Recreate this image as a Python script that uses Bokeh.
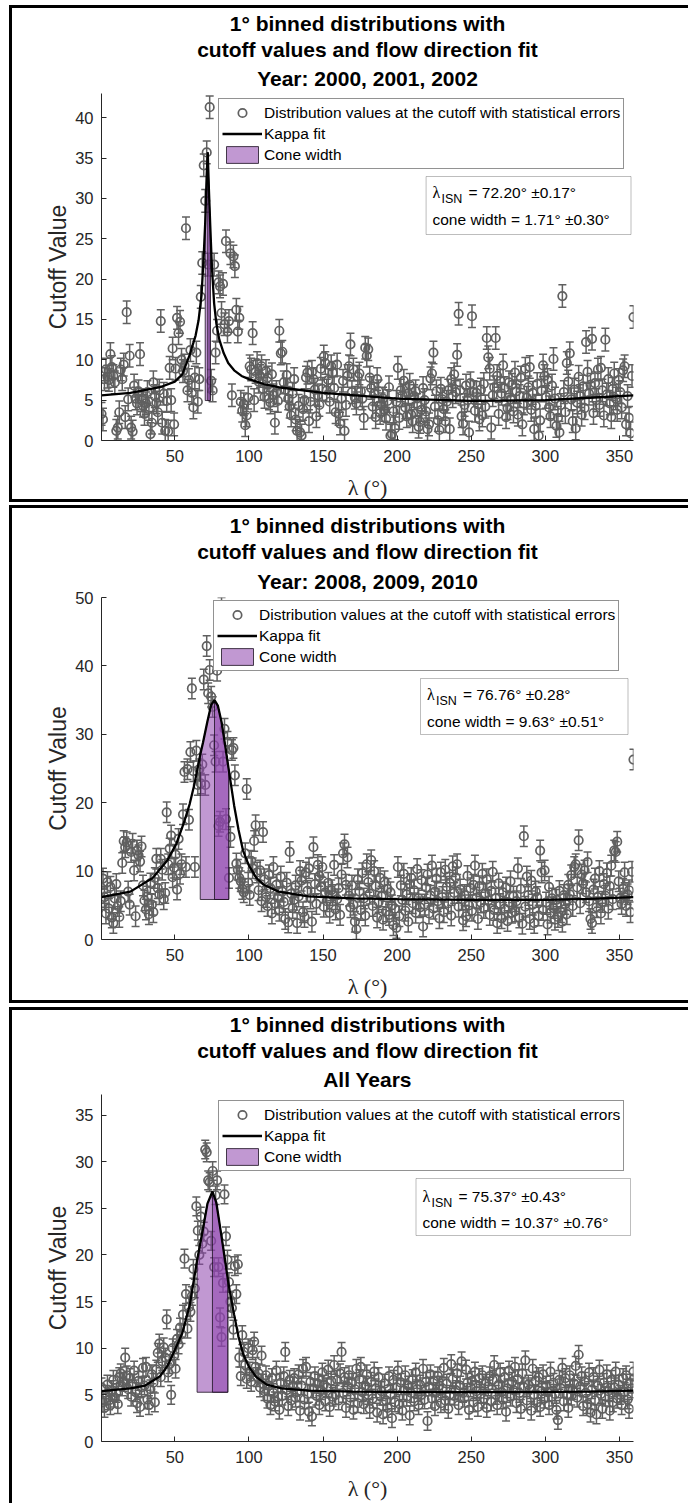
from bokeh.plotting import figure
from bokeh.models import Range1d, FixedTicker, Legend, LegendItem, Label, BoxAnnotation, Title
from bokeh.layouts import column
from bokeh.embed import file_html
from bokeh.resources import INLINE

# ---------------- data ----------------
lam = [i + 0.5 for i in range(360)]  # 1-degree bin centres

vals1 = [3.3, 2.6, 7.6, 8.8, 7.9, 7.5, 10.7, 9.1, 8.0, 7.2,
         1.2, 1.6, 3.5, 8.8, 7.6, 9.4, 2.9, 15.9, 5.1, 10.5,
         1.6, 1.1, 6.8, 5.2, 4.6, 6.1, 10.7, 5.0, 4.3, 3.3,
         4.6, 6.0, 3.9, 0.8, 2.2, 7.2, 5.5, 4.7, 3.5, 6.2,
         14.8, 2.2, 5.8, 1.2, 4.9, 1.1, 9.0, 5.0, 11.4, 2.0,
         8.9, 15.2, 13.3, 14.7, 10.0, 8.6, 9.3, 26.3, 6.2, 7.5,
         11.2, 5.9, 4.1, 7.8, 10.9, 4.8, 7.6, 17.8, 22.0, 34.1,
         29.7, 35.7, 21.8, 41.3, 7.4, 6.2, 21.8, 10.9, 13.6, 19.6,
         19.1, 15.8, 19.4, 14.4, 24.7, 13.5, 14.8, 23.2, 5.6, 22.8,
         21.6, 16.2, 13.5, 15.2, 4.8, 3.7, 4.5, 1.9, 3.1, 5.3,
         9.2, 8.8, 13.3, 5.0, 8.5, 9.6, 7.3, 8.0, 9.2, 6.4,
         5.4, 8.6, 7.8, 5.2, 4.7, 8.2, 5.6, 2.2, 6.0, 4.9,
         13.6, 10.8, 11.0, 7.2, 6.3, 8.1, 5.2, 4.2, 3.1, 5.8,
         7.6, 2.6, 1.2, 4.3, 1.0, 0.6, 3.9, 5.0, 7.8, 8.4,
         2.4, 4.8, 8.5, 7.6, 6.3, 3.0, 5.6, 4.4, 8.9, 6.4,
         10.4, 9.6, 6.2, 7.5, 4.8, 9.2, 8.4, 6.5, 3.5, 9.4,
         3.3, 2.1, 5.2, 7.4, 1.2, 4.4, 8.0, 9.2, 11.9, 6.0,
         8.8, 5.3, 4.6, 7.9, 8.3, 6.1, 5.2, 2.8, 11.5, 10.5,
         11.3, 7.8, 6.5, 4.2, 5.8, 2.9, 7.6, 6.1, 3.4, 4.5,
         5.2, 3.8, 2.7, 4.9, 6.6, 0.6, 0.8, 3.6, 1.5, 4.8,
         9.0, 2.8, 6.2, 5.6, 7.4, 4.1, 3.0, 5.8, 6.9, 3.2,
         2.4, 5.5, 6.1, 4.4, 1.7, 2.3, 3.8, 6.5, 5.0, 3.6,
         1.4, 2.0, 7.7, 8.3, 10.9, 4.2, 6.1, 2.5, 1.3, 6.4,
         5.1, 3.9, 2.4, 4.8, 6.2, 1.4, 7.6, 5.5, 8.2, 6.0,
         10.6, 15.7, 6.2, 3.0, 2.1, 4.4, 6.8, 5.0, 1.0, 7.1,
         15.4, 6.0, 3.7, 5.9, 4.5, 2.6, 6.3, 3.1, 7.0, 4.2,
         12.7, 10.3, 8.9, 1.6, 5.6, 6.6, 12.7, 8.0, 3.3, 7.4,
         5.8, 9.3, 6.5, 2.9, 4.0, 7.2, 5.1, 6.9, 3.6, 8.4,
         6.1, 3.2, 5.5, 7.8, 2.0, 4.6, 8.9, 5.3, 6.6, 9.1,
         3.8, 5.9, 1.4, 4.3, 7.0, 0.6, 2.5, 6.2, 9.3, 8.0,
         5.4, 7.5, 4.1, 3.0, 6.8, 10.1, 5.2, 1.8, 2.8, 1.0,
         4.4, 17.9, 6.0, 3.5, 9.6, 7.3, 10.8, 5.1, 2.4, 6.3,
         1.5, 4.7, 7.9, 5.5, 3.2, 6.7, 4.0, 12.2, 8.5, 5.8,
         6.9, 12.6, 3.4, 7.1, 5.0, 8.8, 4.4, 9.0, 6.2, 3.1,
         12.5, 5.7, 7.6, 4.6, 2.9, 6.4, 8.3, 5.2, 3.8, 7.5,
         6.0, 4.1, 8.7, 9.2, 2.0, 5.5, 2.8, 0.9, 8.0, 15.3]

vals2 = [5.9, 8.9, 6.2, 3.8, 8.4, 4.5, 7.7, 3.2, 2.4, 6.0,
         8.1, 4.9, 3.3, 5.6, 11.2, 14.4, 13.5, 14.2, 7.0, 5.1,
         12.8, 14.0, 10.1, 3.4, 13.0, 12.3, 11.4, 13.6, 7.9, 5.7,
         4.4, 6.3, 3.7, 8.2, 5.1, 4.0, 9.0, 11.8, 7.5, 6.6,
         11.8, 10.2, 5.9, 6.8, 18.6, 11.0, 13.3, 15.2, 9.1, 10.5,
         12.4, 7.3, 14.7, 9.6, 11.0, 18.3, 24.5, 10.6, 24.9, 17.5,
         27.4, 36.7, 24.6, 10.6, 27.6, 22.6, 24.9, 22.8, 25.6, 38.0,
         22.6, 42.9, 36.0, 39.4, 35.5, 34.0, 28.4, 26.0, 39.3, 16.6,
         17.2, 48.5, 26.0, 30.8, 17.6, 28.9, 9.0, 15.0, 27.7, 28.0,
         24.0, 11.1, 10.2, 9.0, 8.5, 7.4, 6.9, 12.6, 22.0, 8.3,
         6.5, 11.5, 10.4, 14.4, 16.7, 9.8, 7.2, 10.1, 5.6, 15.7,
         8.8, 6.2, 4.9, 9.4, 7.5, 3.8, 10.6, 5.3, 8.0, 6.1,
         4.2, 9.2, 7.0, 5.5, 3.0, 8.3, 2.5, 12.8, 6.7, 4.6,
         5.8, 7.9, 2.4, 6.3, 10.0, 8.6, 4.0, 3.3, 9.8, 7.1,
         10.4, 6.0, 2.6, 13.5, 8.1, 5.2, 10.9, 9.3, 7.7, 10.6,
         4.8, 6.9, 5.6, 8.3, 3.9, 7.2, 6.5, 10.9, 4.4, 5.9,
         7.5, 3.6, 9.5, 12.6, 13.9, 8.0, 12.0, 6.4, 4.7, 7.9,
         5.1, 2.6, 1.5, 8.8, 7.0, 4.3, 9.7, 6.0, 3.5, 11.0,
         8.4, 6.7, 11.6, 4.9, 10.0, 7.8, 3.2, 5.5, 9.0, 6.3,
         2.9, 8.5, 4.1, 7.4, 3.6, 6.9, 5.0, 2.1, 4.5, 1.7,
         10.6, 3.4, 7.9, 5.8, 9.6, 4.2, 6.6, 2.6, 8.1, 9.0,
         5.3, 7.2, 3.9, 10.3, 6.0, 4.7, 8.7, 1.9, 5.1, 7.6,
         9.5, 3.8, 6.4, 10.8, 4.5, 7.0, 8.9, 5.6, 3.1, 9.8,
         6.2, 4.0, 10.2, 7.7, 5.3, 8.3, 3.5, 10.7, 6.8, 9.1,
         11.0, 4.8, 7.3, 5.9, 2.8, 6.5, 3.4, 9.3, 5.0, 7.5,
         4.2, 8.0, 10.8, 6.1, 3.0, 7.8, 5.4, 9.6, 4.6, 6.7,
         8.8, 5.7, 3.6, 7.1, 9.9, 4.3, 6.0, 2.4, 8.2, 5.2,
         3.1, 6.9, 4.5, 7.6, 2.7, 5.4, 8.5, 3.9, 6.3, 4.1,
         5.6, 10.4, 3.2, 7.4, 2.3, 15.1, 4.8, 9.2, 6.5, 3.0,
         8.6, 5.1, 2.4, 7.0, 6.2, 3.5, 13.0, 9.8, 4.3, 10.1,
         5.4, 2.2, 7.7, 3.9, 6.0, 4.6, 2.9, 5.8, 3.3, 7.1,
         4.0, 2.6, 6.5, 5.2, 3.7, 8.0, 6.6, 9.4, 4.9, 10.6,
         11.0, 7.6, 14.5, 5.3, 9.5, 8.2, 10.1, 6.9, 11.3, 5.6,
         3.0, 2.4, 7.3, 8.9, 4.7, 6.2, 10.0, 3.8, 5.5, 8.1,
         6.4, 9.7, 4.5, 7.8, 10.8, 5.9, 13.0, 12.8, 14.3, 8.5,
         6.0, 5.2, 7.4, 9.8, 4.9, 6.6, 7.2, 4.0, 9.9, 26.3]

vals3 = [5.8, 4.2, 3.6, 5.0, 6.1, 4.4, 3.9, 5.5, 6.6, 4.7,
         5.2, 4.0, 6.9, 7.3, 5.9, 6.4, 9.0, 7.1, 5.6, 6.8,
         4.8, 6.2, 7.6, 5.3, 4.1, 6.5, 3.7, 5.8, 7.9, 6.0,
         8.0, 4.5, 3.9, 5.6, 7.2, 6.3, 4.2, 7.7, 9.5, 10.5,
         6.9, 8.6, 10.1, 9.0, 13.1, 7.4, 8.3, 5.0, 10.0, 9.2,
         7.8, 11.0, 10.4, 12.2, 11.5, 13.6, 19.6, 15.8, 12.1, 14.4,
         13.9, 15.6, 18.5, 16.4, 25.2, 22.6, 20.0, 24.1, 21.2, 22.5,
         31.3, 31.0, 28.0, 27.8, 21.5, 29.0, 18.7, 26.4, 28.0, 18.7,
         13.3, 11.2, 17.0, 26.5, 22.0, 19.5, 17.1, 15.0, 14.3, 12.0,
         18.8, 15.8, 19.0, 9.0, 7.0, 11.4, 9.6, 8.2, 6.7, 10.0,
         7.5, 6.4, 9.8, 10.7, 8.0, 6.9, 7.3, 5.8, 9.2, 6.2,
         5.4, 7.1, 4.6, 6.0, 3.9, 6.8, 5.2, 4.3, 7.6, 4.8,
         3.4, 6.3, 4.9, 7.0, 9.6, 5.5, 3.8, 6.6, 4.4, 5.9,
         6.8, 4.7, 5.3, 7.2, 3.3, 6.0, 7.8, 4.5, 8.0, 5.1,
         3.2, 6.4, 2.7, 5.7, 7.0, 4.9, 6.2, 3.9, 5.5, 7.4,
         6.1, 4.3, 5.8, 7.7, 3.7, 6.5, 4.8, 8.2, 5.0, 6.6,
         4.4, 7.3, 9.6, 5.2, 6.9, 3.6, 5.9, 7.1, 4.7, 6.3,
         3.4, 5.6, 7.8, 4.1, 6.7, 8.0, 5.3, 4.0, 6.0, 7.2,
         5.0, 3.5, 6.4, 4.6, 7.5, 5.7, 3.1, 6.9, 4.9, 5.4,
         2.9, 6.2, 4.4, 3.6, 7.0, 5.1, 2.5, 6.6, 4.2, 5.8,
         7.6, 4.0, 6.3, 3.3, 5.5, 7.1, 4.8, 6.0, 2.8, 5.2,
         6.7, 4.3, 7.4, 5.6, 3.9, 6.1, 5.0, 7.8, 4.5, 6.4,
         2.2, 5.9, 7.2, 4.6, 6.5, 3.8, 5.3, 7.0, 6.0, 4.1,
         5.7, 7.9, 4.4, 6.2, 3.5, 5.0, 8.3, 6.7, 4.9, 5.5,
         7.3, 3.9, 6.0, 8.6, 5.2, 4.7, 7.7, 6.3, 3.4, 5.8,
         6.5, 4.2, 7.5, 5.4, 3.7, 6.8, 5.1, 7.1, 4.6, 6.2,
         3.6, 5.9, 7.0, 4.3, 6.6, 8.2, 5.0, 3.9, 6.1, 7.4,
         5.3, 4.5, 6.9, 3.2, 5.7, 7.6, 4.8, 6.4, 5.5, 8.0,
         4.1, 6.7, 5.2, 3.5, 7.3, 5.8, 8.7, 4.4, 6.1, 5.6,
         3.3, 7.8, 5.0, 6.5, 4.2, 6.9, 3.7, 5.4, 7.2, 4.6,
         6.0, 5.3, 3.9, 7.5, 4.8, 6.3, 5.1, 3.4, 2.3, 6.6,
         5.7, 7.9, 4.3, 6.8, 5.0, 3.6, 7.1, 4.9, 5.5, 6.2,
         8.1, 4.7, 9.3, 5.9, 7.0, 3.8, 6.4, 5.2, 4.0, 7.4,
         3.1, 5.6, 6.9, 4.4, 2.9, 6.0, 7.7, 5.1, 3.5, 6.3,
         4.8, 7.2, 5.4, 3.3, 6.6, 4.2, 5.8, 7.5, 4.6, 6.1,
         5.0, 3.9, 6.8, 5.3, 7.1, 4.5, 3.5, 6.2, 5.7, 7.5]

err1, err2, err3 = 1.4, 1.5, 1.0

fit1_x = [0.5, 20, 40, 50, 55, 60, 64, 66, 68, 69.5, 70.49, 71.5, 72.2, 73, 73.91, 75, 76.5, 78, 80,
          83, 86, 90, 95, 100, 110, 120, 150, 200, 250, 300, 330, 359.5]
fit1_y = [5.6, 5.9, 6.6, 7.3, 8.2, 10.6, 13.0, 14.9, 18.0, 23.0, 27.0, 33.0, 35.7, 31.0, 26.5, 21.5, 17.0, 14.5, 12.5,
          10.8, 9.6, 8.7, 8.0, 7.6, 7.0, 6.6, 5.9, 5.2, 4.9, 5.0, 5.3, 5.6]

fit2_x = [0.5, 20, 35, 45, 51, 56, 60, 63, 67.13, 69, 72, 74.5, 76.76, 79, 81.5, 84, 86.39, 90, 93, 96,
          100, 105, 110, 120, 140, 170, 200, 250, 300, 330, 359.5]
fit2_y = [6.2, 7.0, 9.0, 11.6, 14.0, 17.0, 19.8, 22.5, 27.0, 28.8, 31.9, 34.3, 35.0, 34.2, 31.8, 28.3, 24.8, 19.6, 16.0, 13.0,
          10.8, 9.0, 8.0, 7.0, 6.3, 6.0, 5.9, 5.8, 5.8, 5.95, 6.2]

fit3_x = [0.5, 20, 30, 40, 45, 50, 55, 60, 65.0, 69, 72, 75.37, 78, 81, 84, 85.74, 87, 90, 93, 96,
          100, 105, 112, 122, 140, 170, 220, 280, 330, 359.5]
fit3_y = [5.4, 5.7, 6.0, 7.0, 8.1, 9.8, 11.6, 14.6, 19.4, 22.8, 25.5, 26.8, 25.6, 22.5, 19.3, 17.4, 16.2, 13.6, 11.2, 9.4,
          8.0, 6.9, 6.1, 5.7, 5.45, 5.35, 5.3, 5.3, 5.35, 5.45]

lam_isn = [72.20, 76.76, 75.37]
cone_w = [1.71, 9.63, 10.37]
cone_base = [4.95, 5.85, 5.28]

titles3 = ["Year: 2000, 2001, 2002", "Year: 2008, 2009, 2010", "All Years"]
ann_lam = ["= 72.20\u00b0 \u00b10.17\u00b0", "= 76.76\u00b0 \u00b10.28\u00b0", "= 75.37\u00b0 \u00b10.43\u00b0"]
ann_cone = ["cone width = 1.71\u00b0 \u00b10.30\u00b0", "cone width = 9.63\u00b0 \u00b10.51\u00b0",
            "cone width = 10.37\u00b0 \u00b10.76\u00b0"]
yticks = [[0, 5, 10, 15, 20, 25, 30, 35, 40], [0, 10, 20, 30, 40, 50], [0, 5, 10, 15, 20, 25, 30, 35]]
ymax = [43.0, 50.0, 37.2]
xticks = [50, 100, 150, 200, 250, 300, 350]

GRAY = "#606060"
AX = "#262626"
PURPLE = "#8e44ad"
FONT = "Liberation Sans"


def cone_poly(fx, fy, x0, x1, base):
    xs = [x for x in fx if x0 - 1e-6 <= x <= x1 + 1e-6]
    ys = [y for x, y in zip(fx, fy) if x0 - 1e-6 <= x <= x1 + 1e-6]
    return [x0] + xs + [x1], [base] + ys + [base]


def panel(k, vals, err, fx, fy, height, ftop, fbot, legend_xy, box, ann_x, ann_y, shadow, title_standoff):
    p = figure(width=688, height=height, output_backend="svg", toolbar_location=None,
               x_range=Range1d(0.5, 359.5), y_range=Range1d(0, ymax[k]),
               min_border_left=101, min_border_right=55, min_border_top=ftop, min_border_bottom=fbot)
    p.outline_line_color = None
    p.grid.visible = False
    p.background_fill_color = None
    p.border_fill_color = None
    p.styles = {"box-shadow": shadow}

    # error bars
    lo = [v - err for v in vals]
    hi = [v + err for v in vals]
    p.segment(x0=lam, y0=lo, x1=lam, y1=hi, line_color=GRAY, line_width=1.5)
    p.scatter(x=lam, y=lo, marker="dash", size=8, line_color=GRAY, line_width=1.5)
    p.scatter(x=lam, y=hi, marker="dash", size=8, line_color=GRAY, line_width=1.5)
    pts = p.scatter(x=lam, y=vals, marker="circle", size=8.5, fill_color=None,
                    line_color=GRAY, line_width=1.7)

    # cone width
    l0, w, b = lam_isn[k], cone_w[k], cone_base[k]
    cx, cy = cone_poly(fx, fy, l0 - w, l0 + w, b)
    cone = p.patch(cx, cy, fill_color=PURPLE, fill_alpha=0.55, line_color="#1a1020", line_width=0.8)
    rx, ry = cone_poly(fx, fy, l0, l0 + w, b)
    p.patch(rx, ry, fill_color=PURPLE, fill_alpha=0.55, line_color="#1a1020", line_width=0.8)

    fit = p.line(fx, fy, line_color="black", line_width=2.3)

    # axes
    for ax in (p.xaxis[0], p.yaxis[0]):
        ax.axis_line_color = AX
        ax.major_tick_line_color = AX
        ax.major_tick_in = 5
        ax.major_tick_out = 0
        ax.minor_tick_line_color = None
        ax.major_label_text_font = FONT
        ax.major_label_text_font_size = "16.5px"
        ax.major_label_text_color = AX
        ax.axis_label_text_font_style = "normal"
        ax.axis_label_text_color = AX
    p.yaxis.major_label_standoff = 8
    p.xaxis.major_label_standoff = 9
    p.xaxis.ticker = FixedTicker(ticks=xticks)
    p.yaxis.ticker = FixedTicker(ticks=yticks[k])
    p.yaxis.axis_label = "Cutoff Value"
    p.yaxis.axis_label_text_font = FONT
    p.yaxis.axis_label_text_font_size = "23px"
    p.yaxis.axis_label_standoff = 1
    p.xaxis.axis_label = "\u03bb (\u00b0)"
    p.xaxis.axis_label_text_font = "Liberation Serif"
    p.xaxis.axis_label_text_font_size = "22px"
    p.xaxis.axis_label_standoff = 10

    # legend
    legend = Legend(items=[
        LegendItem(label="Distribution values at the cutoff with statistical errors", renderers=[pts]),
        LegendItem(label="Kappa fit", renderers=[fit]),
        LegendItem(label="Cone width", renderers=[cone]),
    ], location=legend_xy, glyph_width=40, glyph_height=21, label_height=21, spacing=0, padding=3,
        label_standoff=2, label_text_font=FONT, label_text_font_size="15.5px", label_text_color="black",
        border_line_color=AX, border_line_width=1, background_fill_color="white", background_fill_alpha=1.0,
        margin=0)
    p.add_layout(legend)

    # title (three lines) -- first added sits closest to the axes
    lines = [titles3[k], "cutoff values and flow direction fit", "1\u00b0 binned distributions with"]
    for txt, so in zip(lines, title_standoff):
        p.add_layout(Title(text=txt, align="center", text_font=FONT, text_font_size="21px",
                           text_font_style="bold", text_color="black", standoff=so), "above")

    # annotation box
    p.add_layout(BoxAnnotation(left=box[0], right=box[1], top=box[2], bottom=box[3],
                               left_units="screen", right_units="screen", top_units="screen",
                               bottom_units="screen", fill_color="white", fill_alpha=1.0,
                               line_color=AX, line_width=1))
    p.add_layout(Label(x=ann_x, y=ann_y[0], x_units="screen", y_units="screen", text="\u03bb",
                       text_baseline="middle", text_font="Liberation Serif", text_font_size="16px",
                       text_color="black"))
    p.add_layout(Label(x=ann_x + 9, y=ann_y[0] - 6, x_units="screen", y_units="screen", text="ISN",
                       text_baseline="middle", text_font=FONT, text_font_size="12.5px", text_color="black"))
    p.add_layout(Label(x=ann_x + 36, y=ann_y[0], x_units="screen", y_units="screen", text=ann_lam[k],
                       text_baseline="middle", text_font=FONT, text_font_size="15.5px", text_color="black"))
    p.add_layout(Label(x=ann_x, y=ann_y[1], x_units="screen", y_units="screen", text=ann_cone[k],
                       text_baseline="middle", text_font=FONT, text_font_size="15.5px", text_color="black"))
    return p


SH1 = ("inset 9px 0 0 0 white, inset 0 5px 0 0 white, inset 12px 0 0 0 black, "
       "inset 0 8px 0 0 black, inset 0 -3px 0 0 black")
SH2 = ("inset 9px 0 0 0 white, inset 0 3px 0 0 white, inset 12px 0 0 0 black, "
       "inset 0 6px 0 0 black, inset 0 -3px 0 0 black")
SH3 = ("inset 9px 0 0 0 white, inset 0 4px 0 0 white, inset 12px 0 0 0 black, "
       "inset 0 7px 0 0 black")

p1 = panel(0, vals1, err1, fit1_x, fit1_y, 502, 93, 62, (117, 271),
           (324.6, 529.5, 264, 206), 331, (248, 221), SH1, [7, 1, 1])
p2 = panel(1, vals2, err2, fit2_x, fit2_y, 501, 95, 64, (112, 268),
           (319, 526.5, 261, 205), 325.5, (245, 218), SH2, [9, 1, 1])
p3 = panel(2, vals3, err3, fit3_x, fit3_y, 500, 91, 62, (117, 270),
           (314.5, 529, 263, 206), 321, (245, 219), SH3, [7, 1, 1])

layout = column(p1, p2, p3, spacing=0)
open("out.html", "w").write(file_html(layout, INLINE))
